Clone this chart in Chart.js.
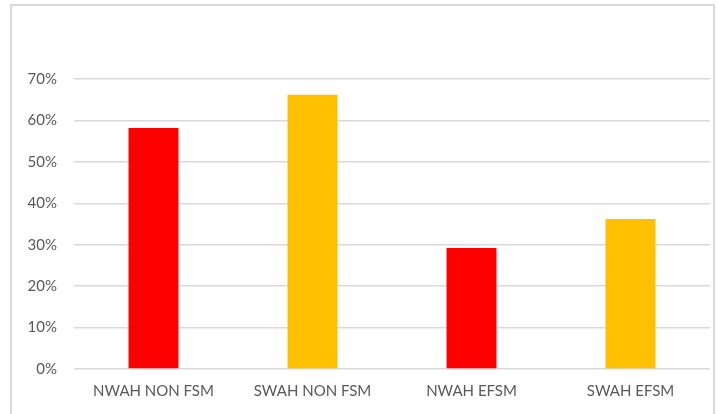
<!DOCTYPE html>
<html>
<head>
<meta charset="utf-8">
<script src="https://cdn.jsdelivr.net/npm/chart.js@4/dist/chart.umd.min.js"></script>
<style>
  body { margin: 0; background: #fff; }
  #wrap { position: relative; width: 718px; height: 414px; overflow: hidden; }
  #frame { position: absolute; left: 10px; top: 4px; width: 705px; height: 420px; border: 2px solid #d9d9d9; box-sizing: border-box; }
  canvas { position: absolute; left: 0; top: 0; }
</style>
</head>
<body>
<div id="wrap">
  <div id="frame"></div>
  <canvas id="chart" width="718" height="414"></canvas>
</div>
<script>
const categories = ["NWAH NON FSM", "SWAH NON FSM", "NWAH EFSM", "SWAH EFSM"];
const values = [58.2, 66.2, 29.2, 36.2];
const barColors = ["#ff0000", "#ffc000", "#ff0000", "#ffc000"];
const yTicks = [0, 10, 20, 30, 40, 50, 60, 70];

const ctx = document.getElementById("chart").getContext("2d");
const chart = new Chart(ctx, {
  type: "bar",
  data: {
    labels: categories,
    datasets: [
      {
        data: values,
        backgroundColor: barColors,
        categoryPercentage: 1,
        barPercentage: 0.314,
      },
    ],
  },
  options: {
    responsive: false,
    animation: false,
    layout: { padding: { left: 0, right: 8, top: 79, bottom: 0 } },
    plugins: {
      legend: { display: false },
      tooltip: { enabled: false },
    },
    scales: {
      x: {
        grid: { display: false, drawTicks: false },
        border: { display: false },
        ticks: { color: "#595959", font: { family: "Lato", size: 15 }, padding: 13 },
        afterFit: (s) => { s.height = 414 - 369; },
      },
      y: {
        min: 0,
        max: 70,
        afterBuildTicks: (s) => { s.ticks = yTicks.map((v) => ({ value: v })); },
        grid: { color: "#d9d9d9", lineWidth: 1.5, drawTicks: false },
        border: { display: false },
        ticks: {
          color: "#595959",
          font: { family: "Lato", size: 15 },
          padding: 17,
          callback: (v) => v + "%",
        },
        afterFit: (s) => { s.width = 74; },
      },
    },
  },
});
</script>
</body>
</html>
